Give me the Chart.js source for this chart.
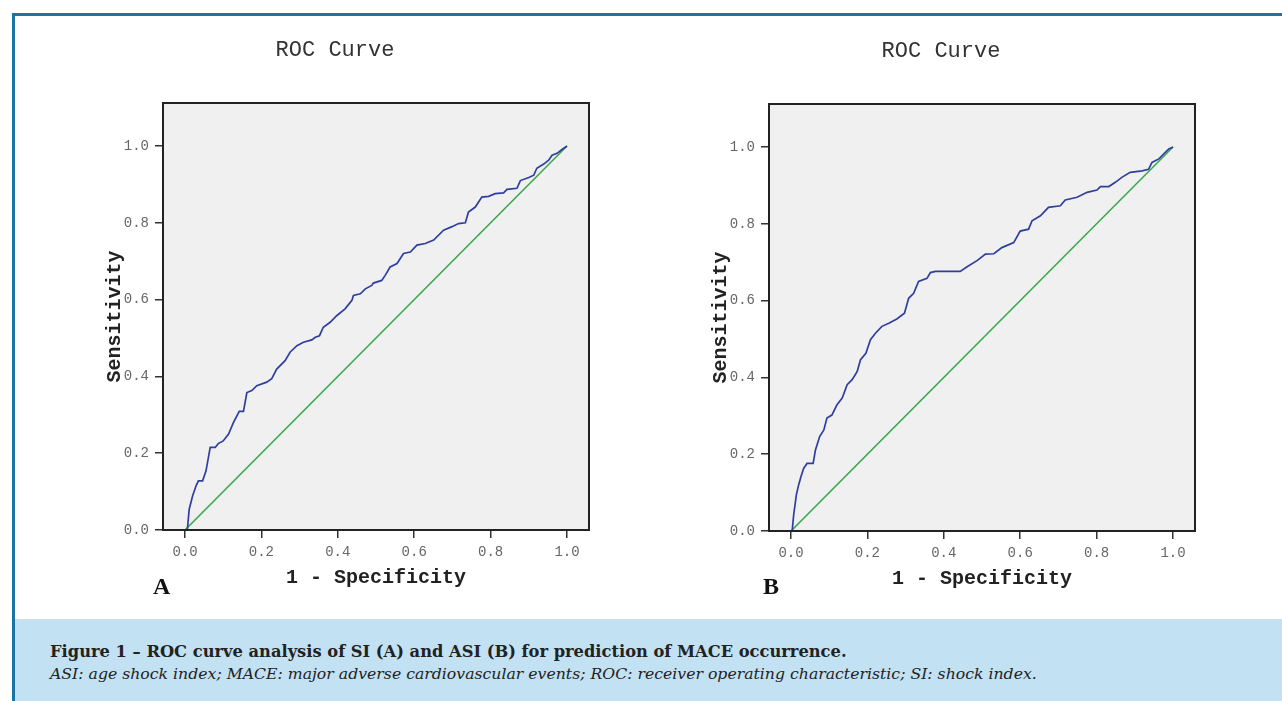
<!DOCTYPE html>
<html>
<head>
<meta charset="utf-8">
<script src="https://cdn.jsdelivr.net/npm/chart.js@4.4.1/dist/chart.umd.min.js"></script>
<style>
  body { margin: 0; width: 1282px; height: 701px; overflow: hidden; position: relative; background: #fff; }
  #frame { position: absolute; left: 12px; top: 13px; width: 1280px; height: 700px;
           border-top: 3px solid #1b74a2; border-left: 3px solid #1b74a2; }
  .panel { position: absolute; }
  #panelA { left: 20px; top: 20px; }
  #panelB { left: 626px; top: 21px; }
  .tag { position: absolute; font: bold 24px "Liberation Serif", serif; color: #111; line-height: 24px; }
  #caption { position: absolute; left: 15px; top: 619px; width: 1267px; height: 82px; background: #c2e1f2;
             color: #222; font-family: "DejaVu Serif", serif; }
  #caption .l1 { position: absolute; left: 35px; top: 23px; font-size: 16.3px; font-weight: bold; white-space: nowrap; }
  #caption .l2 { position: absolute; left: 35px; top: 45px; font-size: 15.7px; font-style: italic; white-space: nowrap; }
</style>
</head>
<body>
<div id="frame"></div>
<div class="panel" id="panelA"><canvas id="rocA" width="630" height="570"></canvas></div>
<div class="panel" id="panelB"><canvas id="rocB" width="630" height="570"></canvas></div>
<div class="tag" style="left:153px; top:574px;">A</div>
<div class="tag" style="left:763px; top:574px;">B</div>
<div id="caption">
  <div class="l1">Figure 1 – ROC curve analysis of SI (A) and ASI (B) for prediction of MACE occurrence.</div>
  <div class="l2">ASI: age shock index; MACE: major adverse cardiovascular events; ROC: receiver operating characteristic; SI: shock index.</div>
</div>
<script>
// 軸の目盛り
const tickValues = [0.0, 0.2, 0.4, 0.6, 0.8, 1.0];

// 参照線 (対角線)
const refX = [0, 1];
const refY = [0, 1];

// (A) SI の ROC曲線: 1 - 特異度 / 感度
const fprA = [0.006, 0.011, 0.020, 0.029, 0.035, 0.046, 0.055, 0.066, 0.079, 0.087, 0.100, 0.114, 0.127, 0.142, 0.153,
  0.162, 0.175, 0.188, 0.214, 0.227, 0.240, 0.262, 0.275, 0.293, 0.310, 0.332, 0.341, 0.352, 0.362, 0.380, 0.397,
  0.419, 0.437, 0.441, 0.459, 0.472, 0.489, 0.493, 0.515, 0.524, 0.537, 0.555, 0.572, 0.590, 0.607, 0.629, 0.651,
  0.677, 0.699, 0.716, 0.734, 0.742, 0.760, 0.777, 0.795, 0.812, 0.834, 0.843, 0.869, 0.878, 0.900, 0.913, 0.921,
  0.939, 0.952, 0.961, 0.974, 0.987, 1.000];
const tprA = [0.000, 0.054, 0.089, 0.115, 0.128, 0.128, 0.154, 0.215, 0.215, 0.225, 0.232, 0.250, 0.280, 0.309, 0.309,
  0.358, 0.363, 0.376, 0.385, 0.394, 0.419, 0.441, 0.463, 0.480, 0.489, 0.495, 0.502, 0.506, 0.528, 0.541, 0.558,
  0.576, 0.598, 0.611, 0.615, 0.628, 0.637, 0.643, 0.650, 0.663, 0.685, 0.694, 0.720, 0.724, 0.742, 0.746, 0.755,
  0.781, 0.790, 0.798, 0.800, 0.828, 0.841, 0.867, 0.869, 0.876, 0.878, 0.887, 0.890, 0.910, 0.918, 0.924, 0.942,
  0.953, 0.963, 0.976, 0.981, 0.991, 1.000];

// (B) ASI の ROC曲線
const fprB = [0.003, 0.007, 0.014, 0.020, 0.026, 0.033, 0.042, 0.058, 0.064, 0.075, 0.086, 0.094, 0.107, 0.120, 0.134,
  0.147, 0.160, 0.173, 0.182, 0.196, 0.208, 0.221, 0.238, 0.256, 0.277, 0.297, 0.308, 0.321, 0.334, 0.356, 0.365,
  0.378, 0.443, 0.461, 0.487, 0.509, 0.531, 0.552, 0.583, 0.600, 0.622, 0.631, 0.653, 0.674, 0.705, 0.718, 0.749,
  0.775, 0.801, 0.810, 0.832, 0.849, 0.866, 0.888, 0.919, 0.936, 0.945, 0.963, 0.980, 0.989, 1.000];
const tprB = [0.000, 0.042, 0.094, 0.120, 0.141, 0.163, 0.176, 0.176, 0.211, 0.246, 0.263, 0.294, 0.302, 0.328, 0.346,
  0.381, 0.394, 0.415, 0.446, 0.463, 0.498, 0.515, 0.533, 0.541, 0.552, 0.567, 0.606, 0.619, 0.650, 0.658, 0.673,
  0.676, 0.676, 0.688, 0.704, 0.721, 0.722, 0.738, 0.751, 0.781, 0.786, 0.808, 0.821, 0.843, 0.847, 0.862, 0.869,
  0.882, 0.888, 0.897, 0.897, 0.908, 0.921, 0.934, 0.938, 0.942, 0.960, 0.969, 0.986, 0.995, 1.000];

const MONO = '"Liberation Mono", "DejaVu Sans Mono", monospace';

// プロット領域の背景と枠線
const plotFrame = {
  id: 'plotFrame',
  beforeDraw(chart) {
    const { ctx, chartArea: a } = chart;
    ctx.save();
    ctx.fillStyle = '#f0f0f0';
    ctx.fillRect(a.left, a.top, a.right - a.left, a.bottom - a.top);
    ctx.restore();
  },
  afterDraw(chart) {
    const { ctx, chartArea: a } = chart;
    ctx.save();
    ctx.strokeStyle = '#222';
    ctx.lineWidth = 2;
    ctx.strokeRect(a.left, a.top, a.right - a.left, a.bottom - a.top);
    ctx.restore();
  }
};

function toPoints(xs, ys) {
  return xs.map((x, i) => ({ x: x, y: ys[i] }));
}

function fixedTicks(scale) {
  scale.ticks = tickValues.map(v => ({ value: v }));
}

function drawRoc(canvasId, fpr, tpr) {
  new Chart(document.getElementById(canvasId), {
    type: 'line',
    data: {
      datasets: [
        {
          data: toPoints(fpr, tpr),
          borderColor: '#2f3f9e',
          borderWidth: 1.7
        },
        {
          data: toPoints(refX, refY),
          borderColor: '#3aaa4e',
          borderWidth: 1.6
        }
      ]
    },
    options: {
      responsive: false,
      animation: false,
      layout: { padding: { left: 61, right: 61, top: 0, bottom: 0 } },
      elements: { point: { radius: 0 }, line: { tension: 0 } },
      plugins: {
        legend: { display: false },
        tooltip: { enabled: false },
        title: {
          display: true,
          text: 'ROC Curve',
          color: '#333',
          font: { family: MONO, size: 22, weight: 'normal' },
          padding: { top: 17, bottom: 39.6 }
        }
      },
      scales: {
        x: {
          type: 'linear',
          min: -0.0576,
          max: 1.0576,
          afterBuildTicks: fixedTicks,
          afterFit: s => { s.height = 60; },
          border: { display: false },
          grid: { drawOnChartArea: false, tickLength: 8, color: '#333', lineWidth: 1.5 },
          ticks: {
            autoSkip: false, maxRotation: 0, padding: 6, color: '#666',
            font: { family: MONO, size: 14 },
            callback: v => v.toFixed(1)
          },
          title: {
            display: true, text: '1 - Specificity', color: '#222',
            font: { family: MONO, size: 20, weight: 'bold' },
            padding: { top: 0, bottom: 0 }
          }
        },
        y: {
          type: 'linear',
          min: 0,
          max: 1.112,
          afterBuildTicks: fixedTicks,
          afterFit: s => { s.width = 82; },
          border: { display: false },
          grid: { drawOnChartArea: false, tickLength: 8, color: '#333', lineWidth: 1.5 },
          ticks: {
            autoSkip: false, padding: 6, color: '#666',
            font: { family: MONO, size: 14 },
            callback: v => v.toFixed(1)
          },
          title: {
            display: true, text: 'Sensitivity', color: '#222',
            font: { family: MONO, size: 20, weight: 'bold' },
            padding: { top: 22, bottom: 0 }
          }
        }
      }
    },
    plugins: [plotFrame]
  });
}

drawRoc('rocA', fprA, tprA);
drawRoc('rocB', fprB, tprB);
</script>
</body>
</html>
